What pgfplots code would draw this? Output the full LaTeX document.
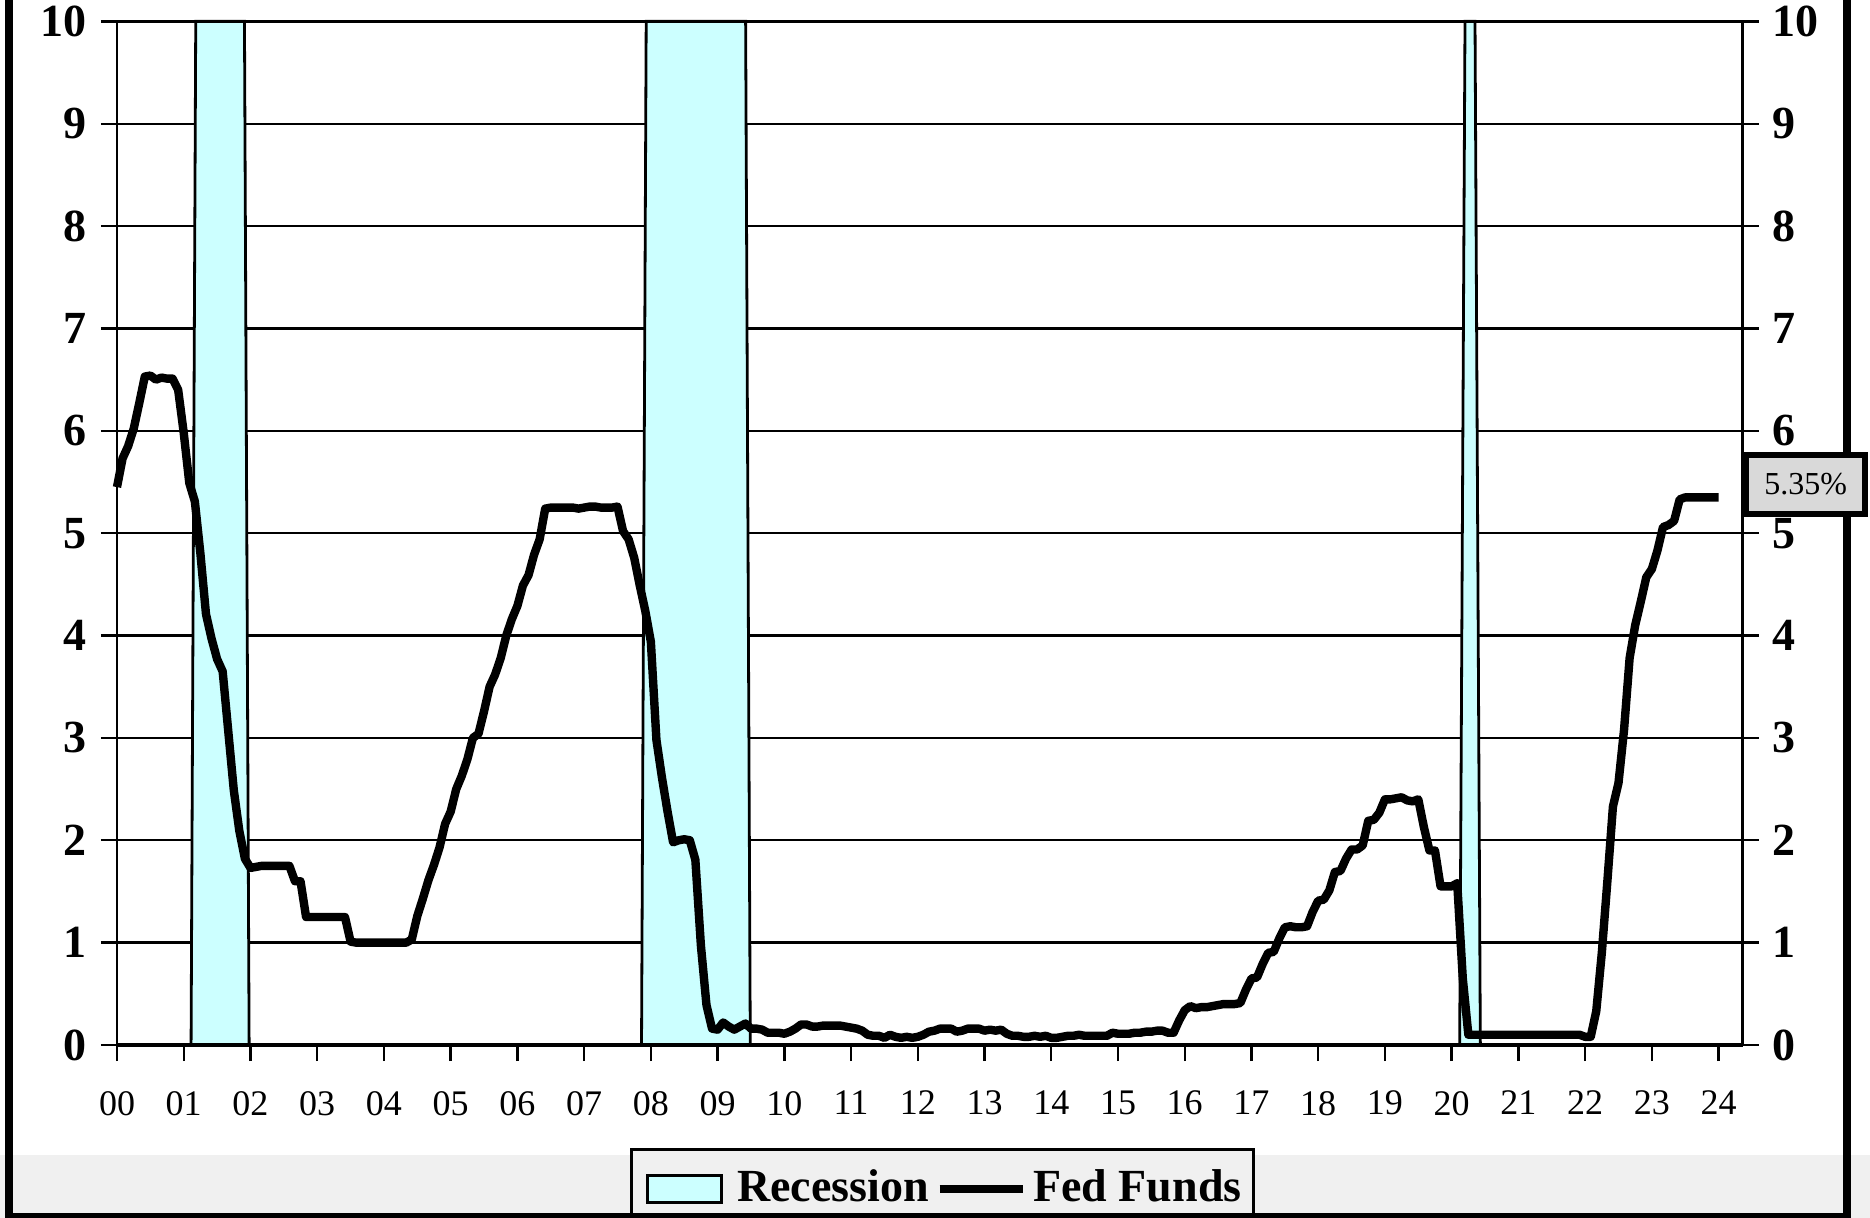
\documentclass[border=0pt]{standalone}
\usepackage{fontspec}
\setmainfont{Liberation Serif}
\usepackage{pgfplots}
\usepackage{pgfplotstable}
\pgfplotsset{compat=1.18}
\definecolor{recfill}{HTML}{CCFFFF}
\definecolor{bandgray}{HTML}{F0F0F0}
\definecolor{labgray}{HTML}{D9D9D9}

\pgfplotstableread[row sep=\\]{
yr mo r\\
0 1 5.45\\ 0 2 5.73\\ 0 3 5.85\\ 0 4 6.02\\ 0 5 6.27\\ 0 6 6.53\\ 0 7 6.54\\ 0 8 6.50\\ 0 9 6.52\\ 0 10 6.51\\ 0 11 6.51\\ 0 12 6.40\\
1 1 5.98\\ 1 2 5.49\\ 1 3 5.31\\ 1 4 4.80\\ 1 5 4.21\\ 1 6 3.97\\ 1 7 3.77\\ 1 8 3.65\\ 1 9 3.07\\ 1 10 2.49\\ 1 11 2.09\\ 1 12 1.82\\
2 1 1.73\\ 2 2 1.74\\ 2 3 1.75\\ 2 4 1.75\\ 2 5 1.75\\ 2 6 1.75\\ 2 7 1.75\\ 2 8 1.75\\ 2 9 1.60\\ 2 10 1.60\\ 2 11 1.25\\ 2 12 1.25\\
3 1 1.25\\ 3 2 1.25\\ 3 3 1.25\\ 3 4 1.25\\ 3 5 1.25\\ 3 6 1.25\\ 3 7 1.01\\ 3 8 1.00\\ 3 9 1.00\\ 3 10 1.00\\ 3 11 1.00\\ 3 12 1.00\\
4 1 1.00\\ 4 2 1.00\\ 4 3 1.00\\ 4 4 1.00\\ 4 5 1.00\\ 4 6 1.03\\ 4 7 1.26\\ 4 8 1.43\\ 4 9 1.61\\ 4 10 1.76\\ 4 11 1.93\\ 4 12 2.16\\
5 1 2.28\\ 5 2 2.50\\ 5 3 2.63\\ 5 4 2.79\\ 5 5 3.00\\ 5 6 3.04\\ 5 7 3.26\\ 5 8 3.50\\ 5 9 3.62\\ 5 10 3.78\\ 5 11 4.00\\ 5 12 4.16\\
6 1 4.29\\ 6 2 4.49\\ 6 3 4.59\\ 6 4 4.79\\ 6 5 4.94\\ 6 6 5.24\\ 6 7 5.25\\ 6 8 5.25\\ 6 9 5.25\\ 6 10 5.25\\ 6 11 5.25\\ 6 12 5.24\\
7 1 5.25\\ 7 2 5.26\\ 7 3 5.26\\ 7 4 5.25\\ 7 5 5.25\\ 7 6 5.25\\ 7 7 5.26\\ 7 8 5.02\\ 7 9 4.94\\ 7 10 4.76\\ 7 11 4.49\\ 7 12 4.24\\
8 1 3.94\\ 8 2 2.98\\ 8 3 2.61\\ 8 4 2.28\\ 8 5 1.98\\ 8 6 2.00\\ 8 7 2.01\\ 8 8 2.00\\ 8 9 1.81\\ 8 10 0.97\\ 8 11 0.39\\ 8 12 0.16\\
9 1 0.15\\ 9 2 0.22\\ 9 3 0.18\\ 9 4 0.15\\ 9 5 0.18\\ 9 6 0.21\\ 9 7 0.16\\ 9 8 0.16\\ 9 9 0.15\\ 9 10 0.12\\ 9 11 0.12\\ 9 12 0.12\\
10 1 0.11\\ 10 2 0.13\\ 10 3 0.16\\ 10 4 0.20\\ 10 5 0.20\\ 10 6 0.18\\ 10 7 0.18\\ 10 8 0.19\\ 10 9 0.19\\ 10 10 0.19\\ 10 11 0.19\\ 10 12 0.18\\
11 1 0.17\\ 11 2 0.16\\ 11 3 0.14\\ 11 4 0.10\\ 11 5 0.09\\ 11 6 0.09\\ 11 7 0.07\\ 11 8 0.10\\ 11 9 0.08\\ 11 10 0.07\\ 11 11 0.08\\ 11 12 0.07\\
12 1 0.08\\ 12 2 0.10\\ 12 3 0.13\\ 12 4 0.14\\ 12 5 0.16\\ 12 6 0.16\\ 12 7 0.16\\ 12 8 0.13\\ 12 9 0.14\\ 12 10 0.16\\ 12 11 0.16\\ 12 12 0.16\\
13 1 0.14\\ 13 2 0.15\\ 13 3 0.14\\ 13 4 0.15\\ 13 5 0.11\\ 13 6 0.09\\ 13 7 0.09\\ 13 8 0.08\\ 13 9 0.08\\ 13 10 0.09\\ 13 11 0.08\\ 13 12 0.09\\
14 1 0.07\\ 14 2 0.07\\ 14 3 0.08\\ 14 4 0.09\\ 14 5 0.09\\ 14 6 0.10\\ 14 7 0.09\\ 14 8 0.09\\ 14 9 0.09\\ 14 10 0.09\\ 14 11 0.09\\ 14 12 0.12\\
15 1 0.11\\ 15 2 0.11\\ 15 3 0.11\\ 15 4 0.12\\ 15 5 0.12\\ 15 6 0.13\\ 15 7 0.13\\ 15 8 0.14\\ 15 9 0.14\\ 15 10 0.12\\ 15 11 0.12\\ 15 12 0.24\\
16 1 0.34\\ 16 2 0.38\\ 16 3 0.36\\ 16 4 0.37\\ 16 5 0.37\\ 16 6 0.38\\ 16 7 0.39\\ 16 8 0.40\\ 16 9 0.40\\ 16 10 0.40\\ 16 11 0.41\\ 16 12 0.54\\
17 1 0.65\\ 17 2 0.66\\ 17 3 0.79\\ 17 4 0.90\\ 17 5 0.91\\ 17 6 1.04\\ 17 7 1.15\\ 17 8 1.16\\ 17 9 1.15\\ 17 10 1.15\\ 17 11 1.16\\ 17 12 1.30\\
18 1 1.41\\ 18 2 1.42\\ 18 3 1.51\\ 18 4 1.69\\ 18 5 1.70\\ 18 6 1.82\\ 18 7 1.91\\ 18 8 1.91\\ 18 9 1.95\\ 18 10 2.19\\ 18 11 2.20\\ 18 12 2.27\\
19 1 2.40\\ 19 2 2.40\\ 19 3 2.41\\ 19 4 2.42\\ 19 5 2.39\\ 19 6 2.38\\ 19 7 2.40\\ 19 8 2.13\\ 19 9 1.90\\ 19 10 1.90\\ 19 11 1.55\\ 19 12 1.55\\
20 1 1.55\\ 20 2 1.58\\ 20 3 0.65\\ 20 4 0.10\\ 20 5 0.10\\ 20 6 0.10\\ 20 7 0.10\\ 20 8 0.10\\ 20 9 0.10\\ 20 10 0.10\\ 20 11 0.10\\ 20 12 0.10\\
21 1 0.10\\ 21 2 0.10\\ 21 3 0.10\\ 21 4 0.10\\ 21 5 0.10\\ 21 6 0.10\\ 21 7 0.10\\ 21 8 0.10\\ 21 9 0.10\\ 21 10 0.10\\ 21 11 0.10\\ 21 12 0.10\\
22 1 0.08\\ 22 2 0.08\\ 22 3 0.33\\ 22 4 0.90\\ 22 5 1.60\\ 22 6 2.33\\ 22 7 2.56\\ 22 8 3.08\\ 22 9 3.78\\ 22 10 4.10\\ 22 11 4.33\\ 22 12 4.57\\
23 1 4.65\\ 23 2 4.83\\ 23 3 5.06\\ 23 4 5.08\\ 23 5 5.12\\ 23 6 5.33\\ 23 7 5.35\\ 23 8 5.35\\ 23 9 5.35\\ 23 10 5.35\\ 23 11 5.35\\ 23 12 5.35\\
24 1 5.35\\
}\ffdata

\begin{document}
\begin{tikzpicture}
\useasboundingbox (0,0) rectangle (467.5pt,304.5pt);
\fill[bandgray] (0,0) rectangle (467.5pt,15.75pt);
\begin{axis}[
  at={(29.25pt,43.25pt)}, anchor=south west,
  scale only axis, width=406.4pt, height=255.9pt,
  xmin=0, xmax=24.36, ymin=0, ymax=10,
  xtick={0,1,...,24},
  xticklabels={00,01,02,03,04,05,06,07,08,09,10,11,12,13,14,15,16,17,18,19,20,21,22,23,24},
  ytick={0,1,...,10},
  xtick pos=left, ytick pos=left,
  tick align=outside, major tick length=4pt,
  tick style={black, line width=0.6pt},
  ymajorgrids, major grid style={black, line width=0.6pt},
  axis line style={black, line width=0.6pt},
  /pgf/number format/assume math mode=true,
  yticklabel style={font=\bfseries\fontsize{11.5}{12}\selectfont},
  xticklabel style={font=\fontsize{9}{10}\selectfont, yshift=-4pt},
  clip=false,
  legend columns=2,
  legend style={at={(axis description cs:0.508,-0.1006)}, anchor=north,
    fill=bandgray, draw=black, line width=0.75pt,
    font=\bfseries\fontsize{11.5}{12}\selectfont,
    inner xsep=1.5pt, inner ysep=3.5pt,
    nodes={inner sep=1.6pt}},
]
\addplot[fill=recfill, draw=black, line width=0.7pt,
  legend image code/.code={\path (-2pt,0pt); \draw[fill=recfill, draw=black, line width=0.8pt] (0pt,-3.4pt) rectangle (18.5pt,3.4pt); \path (20.6pt,0pt);}]
  coordinates {(1.11,0) (1.18,10) (1.91,10) (1.98,0) (7.86,0) (7.93,10) (9.42,10) (9.49,0) (20.12,0) (20.2,10) (20.35,10) (20.43,0)} \closedcycle;
\addlegendentry{Recession}
\addplot[black, line width=2.1pt, line join=round,
  legend image code/.code={\draw[black, line width=2.1pt] (0pt,0pt) -- (20.75pt,0pt);}]
  table[x expr=\thisrow{yr}+(\thisrow{mo}-1)/12, y=r] {\ffdata};
\addlegendentry{Fed Funds}
\draw[black, line width=1.1pt] (rel axis cs:0,0) -- (rel axis cs:1,0);
\end{axis}
\begin{axis}[
  at={(29.25pt,43.25pt)}, anchor=south west,
  scale only axis, width=406.4pt, height=255.9pt,
  xmin=0, xmax=24.36, ymin=0, ymax=10,
  axis y line*=right, axis x line=none,
  ytick={0,1,...,10},
  tick align=outside, major tick length=4pt,
  tick style={black, line width=0.6pt},
  axis line style={black, line width=0.6pt},
  /pgf/number format/assume math mode=true,
  yticklabel style={font=\bfseries\fontsize{11.5}{12}\selectfont},
]
\addplot[draw=none] coordinates {(0,0) (24,10)};
\end{axis}
\draw[black, line width=2.1pt] (2.3pt,310pt) -- (2.3pt,0.3pt) -- (461.8pt,0.3pt) -- (461.8pt,310pt);
\node[draw=black, line width=1.5pt, fill=labgray, minimum width=29.75pt, minimum height=14.75pt, inner sep=0pt,
  font=\fontsize{8}{9}\selectfont] at (451.4pt,183.45pt) {5.35\%};
\end{tikzpicture}
\end{document}
